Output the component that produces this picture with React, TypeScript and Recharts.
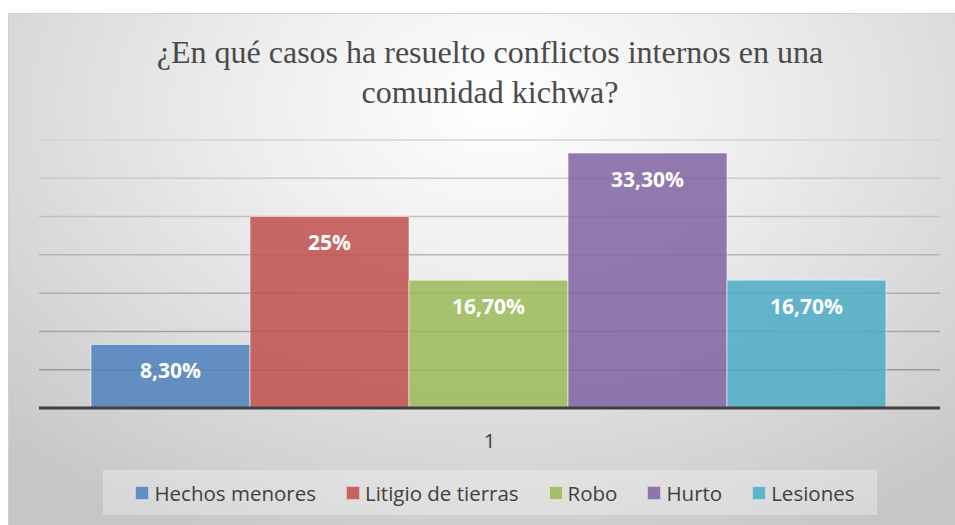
import { BarChart, Bar, XAxis, YAxis, CartesianGrid, Legend, LabelList } from "recharts";

const categories = ["1"];
const seriesNames = ["Hechos menores", "Litigio de tierras", "Robo", "Hurto", "Lesiones"];
const seriesValues = [8.3, 25, 16.7, 33.3, 16.7];
const valueLabels = ["8,30%", "25%", "16,70%", "33,30%", "16,70%"];
const seriesColors = ["#4f81bd", "#c0504d", "#9bbb59", "#8064a2", "#4bacc6"];
const yTicks = [0, 5, 10, 15, 20, 25, 30, 35];

const data = categories.map((name) => {
  const row: Record<string, string | number> = { name };
  seriesNames.forEach((s, i) => {
    row[s] = seriesValues[i];
  });
  return row;
});

const W = 947;
const H = 512;

function LegendBox() {
  return (
    <div
      style={{
        width: 774,
        height: 45,
        background: "rgba(255,255,255,0.3)",
        display: "flex",
        alignItems: "center",
        justifyContent: "center",
        gap: 30,
        fontFamily: "'Open Sans', sans-serif",
        fontSize: 20.5,
        color: "#404040",
        paddingLeft: 10,
        boxSizing: "border-box",
      }}
    >
      {seriesNames.map((s, i) => (
        <div key={s} style={{ display: "flex", alignItems: "center" }}>
          <span
            style={{
              display: "inline-block",
              width: 12,
              height: 12,
              background: seriesColors[i],
              opacity: 0.85,
              border: "1px solid rgba(255,255,255,0.6)",
              marginRight: 5,
            }}
          />
          <span style={{ lineHeight: "24px" }}>{s}</span>
        </div>
      ))}
    </div>
  );
}

export default function App() {
  return (
    <div
      style={{
        position: "absolute",
        left: 8,
        top: 13,
        width: W,
        height: H,
        boxSizing: "border-box",
        borderTop: "1px solid #cfcfcf",
        borderLeft: "1px solid #d0d0d0",
        background:
          "radial-gradient(ellipse 75% 95% at 52% 18%, #ffffff 0%, #eeeeee 35%, #dcdcdc 65%, #c6c6c6 100%)",
        overflow: "hidden",
      }}
    >
      <div
        style={{
          position: "absolute",
          top: 18,
          left: 10,
          width: W - 5,
          textAlign: "center",
          fontFamily: "'Liberation Serif', 'Times New Roman', serif",
          fontSize: 32,
          lineHeight: "40px",
          color: "#4a4a4a",
        }}
      >
        ¿En qué casos ha resuelto conflictos internos en una
        <br />
        comunidad kichwa?
      </div>
      <BarChart
        width={W - 1}
        height={H - 1}
        data={data}
        margin={{ top: 126, right: 15, bottom: 10, left: 30 }}
        barCategoryGap={52}
        barGap={0}
        style={{ position: "absolute", left: 0, top: 0 }}
      >
        <defs>
          <linearGradient id="gridGrad" gradientUnits="userSpaceOnUse" x1="0" y1="126" x2="0" y2="394">
            <stop offset="0%" stopColor="#d4d4d4" />
            <stop offset="100%" stopColor="#8f8f8f" />
          </linearGradient>
        </defs>
        <CartesianGrid vertical={false} stroke="url(#gridGrad)" strokeWidth={1.5} />
        <XAxis
          dataKey="name"
          height={62}
          tickSize={0}
          tickMargin={25}
          tickLine={false}
          axisLine={{ stroke: "#404040", strokeWidth: 3 }}
          tick={{ fill: "#404040", fontSize: 20.5, fontFamily: "'Open Sans', sans-serif" }}
        />
        <YAxis hide domain={[0, 35]} ticks={yTicks} />
        <Legend
          verticalAlign="bottom"
          align="center"
          height={45}
          content={() => <LegendBox />}
          wrapperStyle={{ left: 94, width: 774, bottom: 10, height: 45 }}
        />
        {seriesNames.map((s, i) => (
          <Bar
            key={s}
            dataKey={s}
            fill={seriesColors[i]}
            fillOpacity={0.85}
            stroke="rgba(255,255,255,0.55)"
            strokeWidth={1}
            isAnimationActive={false}
          >
            <LabelList
              dataKey={s}
              position="insideTop"
              offset={19}
              formatter={() => valueLabels[i]}
              fill="#ffffff"
              style={{ fontFamily: "'Open Sans', sans-serif", fontWeight: 700, fontSize: 21 }}
            />
          </Bar>
        ))}
      </BarChart>
    </div>
  );
}
